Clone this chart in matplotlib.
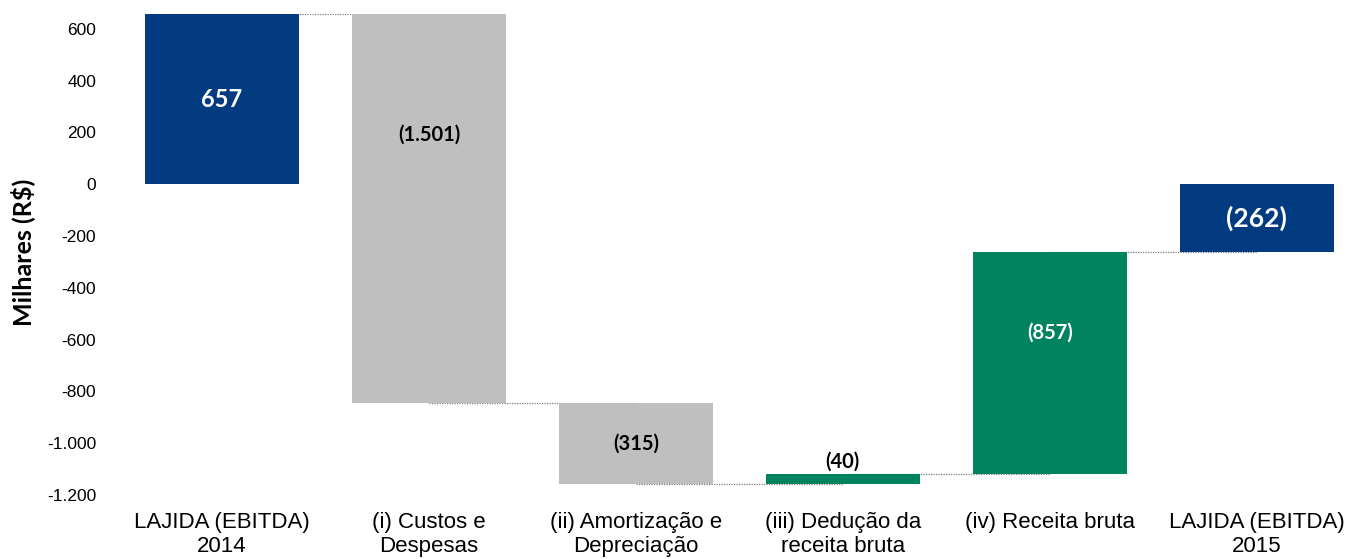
import numpy as np
import matplotlib.pyplot as plt

# dados do gráfico (milhares de R$)
categorias = ['LAJIDA (EBITDA)\n2014', '(i) Custos e\nDespesas', '(ii) Amortização e\nDepreciação',
              '(iii) Dedução da\nreceita bruta', '(iv) Receita bruta', 'LAJIDA (EBITDA)\n2015']
variacoes = [657, -1501, -315, 40, 857, -262]
tipos = ['total', 'delta', 'delta', 'delta', 'delta', 'total']
rotulos = ['657', '(1.501)', '(315)', '(40)', '(857)', '(262)']
yticks = [600, 400, 200, 0, -200, -400, -600, -800, -1000, -1200]

azul = '#023B80'
cinza = '#BFBFBF'
verde = '#00845F'
cores = [azul, cinza, cinza, verde, verde, azul]
cor_texto = ['white', 'black', 'black', 'black', 'white', 'white']
tam_texto = [17, 14.5, 14.5, 14.5, 14.5, 19]
pos_rel = [0.5, 0.31, 0.5, None, 0.364, 0.5]  # posição do rótulo a partir do topo da barra

# calcula base e topo de cada barra
bases = []
topos = []
acum = 0
for v, t in zip(variacoes, tipos):
    if t == 'total':
        bases.append(0)
        topos.append(v)
        acum = v
    else:
        bases.append(acum)
        acum = acum + v
        topos.append(acum)
bases = np.array(bases)
topos = np.array(topos)

fig = plt.figure(figsize=(13.5, 5.59), dpi=100)
ax = fig.add_axes([0.0877, 0.1145, 0.9123, 0.8605])

x = np.arange(len(categorias))
ax.bar(x, topos - bases, bottom=bases, width=0.745, color=cores, zorder=2)

# linhas de ligação pontilhadas
for i in range(len(x) - 1):
    ax.plot([x[i], x[i + 1]], [topos[i], topos[i]], color='#7F7F7F', lw=0.9,
            ls=(0, (1, 1)), zorder=1)

# rótulos das barras
for i in range(len(x)):
    alto = max(topos[i], bases[i])
    baixo = min(topos[i], bases[i])
    if pos_rel[i] is None:
        ax.text(x[i], alto + 8, rotulos[i], ha='center', va='bottom', color=cor_texto[i],
                fontsize=tam_texto[i], fontweight='bold', family='Lato')
    else:
        yy = alto - pos_rel[i] * (alto - baixo)
        ax.text(x[i], yy, rotulos[i], ha='center', va='center', color=cor_texto[i],
                fontsize=tam_texto[i], fontweight='bold', family='Lato')

ax.set_xlim(-0.5, 5.45)
ax.set_ylim(-1200, 657)
ax.set_xticks(x)
ax.set_xticklabels(categorias, fontsize=16, family='Liberation Sans', linespacing=1.22)
ax.set_yticks(yticks)
ax.set_yticklabels([('{:,}'.format(v)).replace(',', '.') for v in yticks],
                   fontsize=12.5, family='Liberation Sans')
ax.tick_params(axis='both', length=0)
ax.tick_params(axis='y', pad=16)
ax.tick_params(axis='x', pad=12)
for s in ax.spines.values():
    s.set_visible(False)

fig.text(0.017, 0.548, 'Milhares (R$)', rotation=90, ha='center', va='center',
         fontsize=18, fontweight='bold', family='Lato')

fig.savefig('out.png', dpi=100)
